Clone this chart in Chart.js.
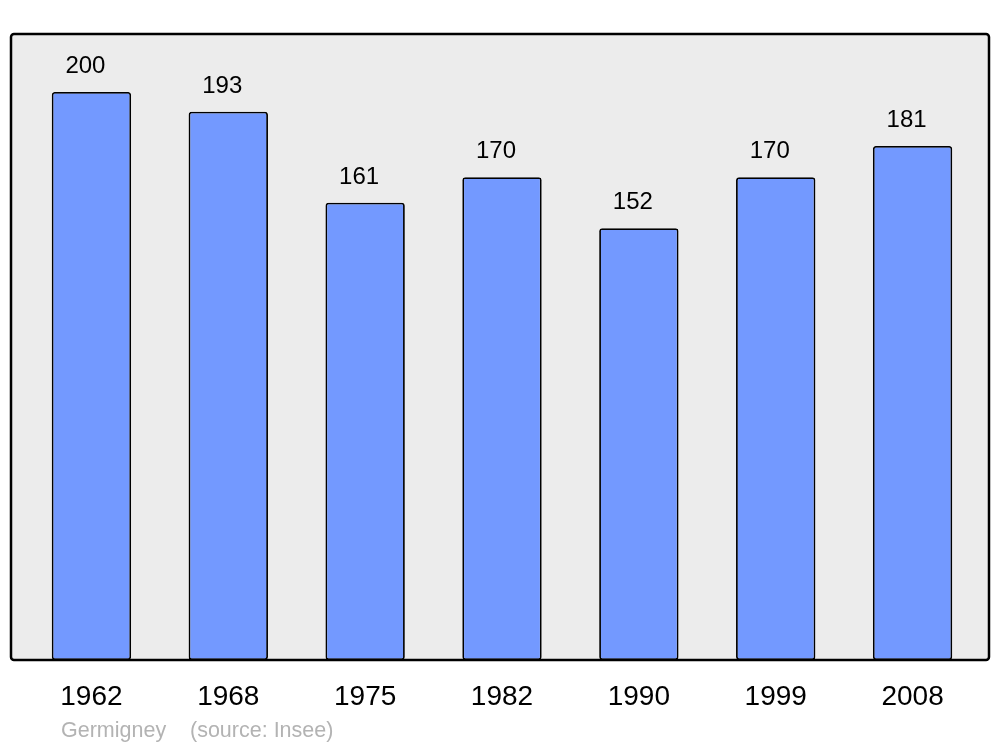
<!DOCTYPE html>
<html>
<head>
<meta charset="utf-8">
<script src="https://cdn.jsdelivr.net/npm/chart.js@4/dist/chart.umd.min.js"></script>
<style>
  html, body { margin: 0; padding: 0; background: #ffffff; }
  #wrap { width: 1000px; height: 747px; position: relative; }
</style>
</head>
<body>
<div id="wrap"><canvas id="chart" width="1000" height="747"></canvas></div>
<script>
// données : population de Germigney
const years = ['1962', '1968', '1975', '1982', '1990', '1999', '2008'];
const population = [200, 193, 161, 170, 152, 170, 181];
const sourceLabel = 'Germigney';
const sourceNote = '(source: Insee)';

// fond gris + cadre noir derrière le graphique
const framePlugin = {
  id: 'frame',
  beforeDraw(chart) {
    const c = chart.ctx;
    const x0 = 11, y0 = 34, x1 = 989, y1 = chart.chartArea.bottom, r = 3;
    c.save();
    c.beginPath();
    c.moveTo(x0 + r, y0);
    c.arcTo(x1, y0, x1, y1, r);
    c.arcTo(x1, y1, x0, y1, r);
    c.arcTo(x0, y1, x0, y0, r);
    c.arcTo(x0, y0, x1, y0, r);
    c.closePath();
    c.fillStyle = '#ececec';
    c.fill();
    c.lineWidth = 2.5;
    c.strokeStyle = '#000000';
    c.stroke();
    c.restore();
  },
  afterDatasetsDraw(chart) {
    const c = chart.ctx;
    const meta = chart.getDatasetMeta(0);
    c.save();
    c.font = '24px "Liberation Sans", Arial, sans-serif';
    c.fillStyle = '#000000';
    c.textAlign = 'center';
    c.textBaseline = 'alphabetic';
    meta.data.forEach(function (bar, i) {
      c.fillText(String(population[i]), bar.x - 6, bar.y - 19);
    });
    // source en bas
    c.font = '21.5px "Liberation Sans", Arial, sans-serif';
    c.fillStyle = '#b3b3b3';
    c.textAlign = 'left';
    c.fillText(sourceLabel, 61, 737);
    c.fillText(sourceNote, 190, 737);
    c.restore();
  }
};

const ctx = document.getElementById('chart');
new Chart(ctx.getContext('2d'), {
  type: 'bar',
  data: {
    labels: years,
    datasets: [{
      data: population,
      backgroundColor: '#7399ff',
      borderColor: '#000000',
      borderWidth: 1.8,
      borderRadius: 3,
      borderSkipped: false,
      barPercentage: 0.58,
      categoryPercentage: 1
    }]
  },
  options: {
    responsive: false,
    animation: false,
    layout: { padding: { left: 23, right: 19, top: 34, bottom: 0 } },
    plugins: {
      legend: { display: false },
      tooltip: { enabled: false }
    },
    scales: {
      x: {
        grid: { display: false },
        border: { display: false },
        ticks: {
          color: '#000000',
          padding: 12,
          font: { family: '"Liberation Sans", Arial, sans-serif', size: 28 }
        },
        afterFit(scale) { scale.height = 87; }
      },
      y: {
        display: false,
        min: 0,
        max: 220.4
      }
    }
  },
  plugins: [framePlugin]
});
</script>
</body>
</html>
